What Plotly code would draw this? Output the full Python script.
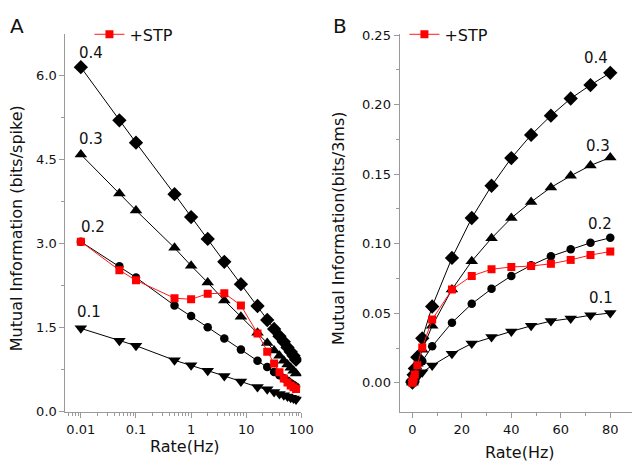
import plotly.graph_objects as go
import math

# ---------------- data ----------------
rate_hz = [0.01, 0.05, 0.1, 0.5, 1, 2, 4, 8, 16, 24, 32, 40, 48, 56, 64, 72, 80]

# Panel A: bits/spike
a_p04 = [6.15, 5.20, 4.80, 3.88, 3.47, 3.08, 2.67, 2.27, 1.88, 1.63, 1.47, 1.34, 1.24, 1.14, 1.06, 0.99, 0.92]
a_p03 = [4.59, 3.89, 3.59, 2.92, 2.60, 2.30, 1.98, 1.69, 1.40, 1.22, 1.085, 0.99, 0.90, 0.835, 0.775, 0.72, 0.675]
a_p02 = [3.03, 2.59, 2.39, 1.89, 1.70, 1.50, 1.30, 1.10, 0.90, 0.79, 0.70, 0.64, 0.587, 0.542, 0.50, 0.466, 0.435]
a_p01 = [1.48, 1.26, 1.17, 0.91, 0.82, 0.72, 0.63, 0.53, 0.43, 0.39, 0.342, 0.308, 0.285, 0.263, 0.241, 0.225, 0.209]
a_stp = [3.03, 2.52, 2.34, 2.02, 2.00, 2.10, 2.11, 1.89, 1.39, 1.06, 0.85, 0.694, 0.583, 0.51, 0.46, 0.425, 0.394]

# Panel B: bits/3ms
b_p04 = [0.0002, 0.0008, 0.0014, 0.0058, 0.0104, 0.0185, 0.032, 0.0549, 0.0898, 0.1185, 0.1417, 0.1616, 0.1782, 0.1921, 0.2044, 0.2141, 0.2229]
b_p03 = [0.00014, 0.0006, 0.0011, 0.0044, 0.0078, 0.0138, 0.0238, 0.0410, 0.0672, 0.0875, 0.1040, 0.1185, 0.1301, 0.1405, 0.1488, 0.1563, 0.1620]
b_p02 = [0.0001, 0.0004, 0.0007, 0.0028, 0.0051, 0.009, 0.0156, 0.0263, 0.0433, 0.0568, 0.0676, 0.0769, 0.0845, 0.091, 0.096, 0.1007, 0.1043]
b_p01 = [0.00004, 0.0002, 0.00035, 0.0014, 0.0025, 0.0043, 0.0076, 0.0125, 0.021, 0.0283, 0.0329, 0.037, 0.041, 0.0444, 0.0463, 0.0486, 0.0502]
b_stp = [0.0001, 0.0004, 0.0007, 0.003, 0.006, 0.0127, 0.0254, 0.0455, 0.0671, 0.0769, 0.0817, 0.0833, 0.084, 0.0856, 0.0884, 0.0919, 0.0944]

series_labels = ["0.4", "0.3", "0.2", "0.1"]
series_symbols = ["diamond", "triangle-up", "circle", "triangle-down"]
series_sizes = [11, 11, 8.5, 11]
legend_label = "+STP"

a_xticks = [0.01, 0.1, 1, 10, 100]
a_xticktext = ["0.01", "0.1", "1", "10", "100"]
a_yticks = [0.0, 1.5, 3.0, 4.5, 6.0]
a_yticktext = ["0.0", "1.5", "3.0", "4.5", "6.0"]

# ---------------- figure ----------------
FONT = "DejaVu Sans"
AX = "#9a9a9a"
W, H = 640, 462

fig = go.Figure()

a_sets = [a_p04, a_p03, a_p02, a_p01]
b_sets = [b_p04, b_p03, b_p02, b_p01]

for ys, sym, sz in zip(a_sets, series_symbols, series_sizes):
    fig.add_trace(go.Scatter(x=rate_hz, y=ys, mode="lines+markers", xaxis="x", yaxis="y",
                             line=dict(color="black", width=1),
                             marker=dict(symbol=sym, size=sz, color="black", line=dict(width=0)),
                             showlegend=False))
fig.add_trace(go.Scatter(x=rate_hz, y=a_stp, mode="lines+markers", xaxis="x", yaxis="y",
                         name=legend_label, legend="legend",
                         line=dict(color="#ff1a1a", width=1),
                         marker=dict(symbol="square", size=8, color="#ff0000", line=dict(width=0))))

for ys, sym, sz in zip(b_sets, series_symbols, series_sizes):
    fig.add_trace(go.Scatter(x=rate_hz, y=ys, mode="lines+markers", xaxis="x2", yaxis="y2",
                             line=dict(color="black", width=1),
                             marker=dict(symbol=sym, size=sz, color="black", line=dict(width=0)),
                             showlegend=False))
fig.add_trace(go.Scatter(x=rate_hz, y=b_stp, mode="lines+markers", xaxis="x2", yaxis="y2",
                         name=legend_label, legend="legend2",
                         line=dict(color="#ff1a1a", width=1),
                         marker=dict(symbol="square", size=8, color="#ff0000", line=dict(width=0))))

# minor tick positions for the log axis (2..9 of each decade)
a_minor = [m * 10.0 ** d for d in range(-3, 2) for m in range(2, 10)]
a_minor = [v for v in a_minor if v > 0.0052]

ydom = [1 - 409.5 / H, 1 - 20 / H]
common = dict(showline=True, linecolor=AX, linewidth=1, ticks="outside", tickcolor=AX,
              ticklen=5, tickwidth=1, showgrid=False, zeroline=False,
              tickfont=dict(family=FONT, size=13, color="#111"))

fig.update_layout(
    width=W, height=H,
    margin=dict(l=0, r=0, t=0, b=0),
    paper_bgcolor="white", plot_bgcolor="white",
    font=dict(family=FONT, color="#111"),
    xaxis=dict(domain=[58.5 / W, 299 / W], type="log", range=[-2.28, 2.0],
               tickmode="array", tickvals=a_xticks, ticktext=a_xticktext,
               minor=dict(tickmode="array", tickvals=a_minor, ticks="outside", ticklen=3,
                          tickcolor=AX),
               anchor="y", **common),
    yaxis=dict(domain=ydom, range=[-0.017, 6.737], tickmode="array",
               tickvals=a_yticks, ticktext=a_yticktext,
               minor=dict(dtick=0.75, tick0=0, ticks="outside", ticklen=3, tickcolor=AX),
               anchor="x", **common),
    xaxis2=dict(domain=[399 / W, 1.0], range=[-5.2, 90.4], dtick=20, tick0=0,
                minor=dict(dtick=10, tick0=0, ticks="outside", ticklen=3, tickcolor=AX),
                anchor="y2", **common),
    yaxis2=dict(domain=ydom, range=[-0.021, 0.2505], dtick=0.05, tick0=0, tickformat=".2f",
                minor=dict(dtick=0.025, tick0=0, ticks="outside", ticklen=3, tickcolor=AX),
                anchor="x2", **common),
    legend=dict(x=83 / W, y=1 - 20 / H, xanchor="left", yanchor="middle",
                bgcolor="rgba(0,0,0,0)", font=dict(family=FONT, size=16, color="#111")),
    legend2=dict(x=404 / W, y=1 - 20 / H, xanchor="left", yanchor="middle",
                 bgcolor="rgba(0,0,0,0)", font=dict(family=FONT, size=16, color="#111")),
)

ann = []
# panel letters
ann.append(dict(text="A", x=9 / W, y=1 - 11 / H, xref="paper", yref="paper", showarrow=False,
                font=dict(family=FONT, size=20, color="#111"), xanchor="center", yanchor="middle"))
ann.append(dict(text="B", x=338 / W, y=1 - 11 / H, xref="paper", yref="paper", showarrow=False,
                font=dict(family=FONT, size=20, color="#111"), xanchor="center", yanchor="middle"))
# axis titles
ann.append(dict(text="Rate(Hz)", x=180 / W, y=1 - 445 / H, xref="paper", yref="paper",
                showarrow=False, font=dict(family=FONT, size=16, color="#111"),
                xanchor="center", yanchor="middle"))
ann.append(dict(text="Rate(Hz)", x=522 / W, y=1 - 451 / H, xref="paper", yref="paper",
                showarrow=False, font=dict(family=FONT, size=16, color="#111"),
                xanchor="center", yanchor="middle"))
ann.append(dict(text="Mutual Information (bits/spike)", x=8 / W, y=1 - 220 / H, xref="paper",
                yref="paper", showarrow=False, textangle=-90,
                font=dict(family=FONT, size=16, color="#111"), xanchor="center", yanchor="middle"))
ann.append(dict(text="Mutual Information(bits/3ms)", x=337 / W, y=1 - 220 / H, xref="paper",
                yref="paper", showarrow=False, textangle=-90,
                font=dict(family=FONT, size=16, color="#111"), xanchor="center", yanchor="middle"))
# series labels, anchored on data points
a_shift = [(10, 14), (10, 15), (12, 15), (8, 16)]
b_shift = [(-14, 15), (-12, 12), (-10, 14), (-9, 15)]
for lab, ys, (dx, dy) in zip(series_labels, a_sets, a_shift):
    ann.append(dict(text=lab, x=math.log10(rate_hz[0]), y=ys[0], xref="x", yref="y",
                    showarrow=False, xshift=dx, yshift=dy,
                    font=dict(family=FONT, size=15, color="#111"),
                    xanchor="center", yanchor="middle"))
for lab, ys, (dx, dy) in zip(series_labels, b_sets, b_shift):
    ann.append(dict(text=lab, x=rate_hz[-1], y=ys[-1], xref="x2", yref="y2",
                    showarrow=False, xshift=dx, yshift=dy,
                    font=dict(family=FONT, size=15, color="#111"),
                    xanchor="center", yanchor="middle"))
fig.update_layout(annotations=ann)

fig.write_html("out.html")
